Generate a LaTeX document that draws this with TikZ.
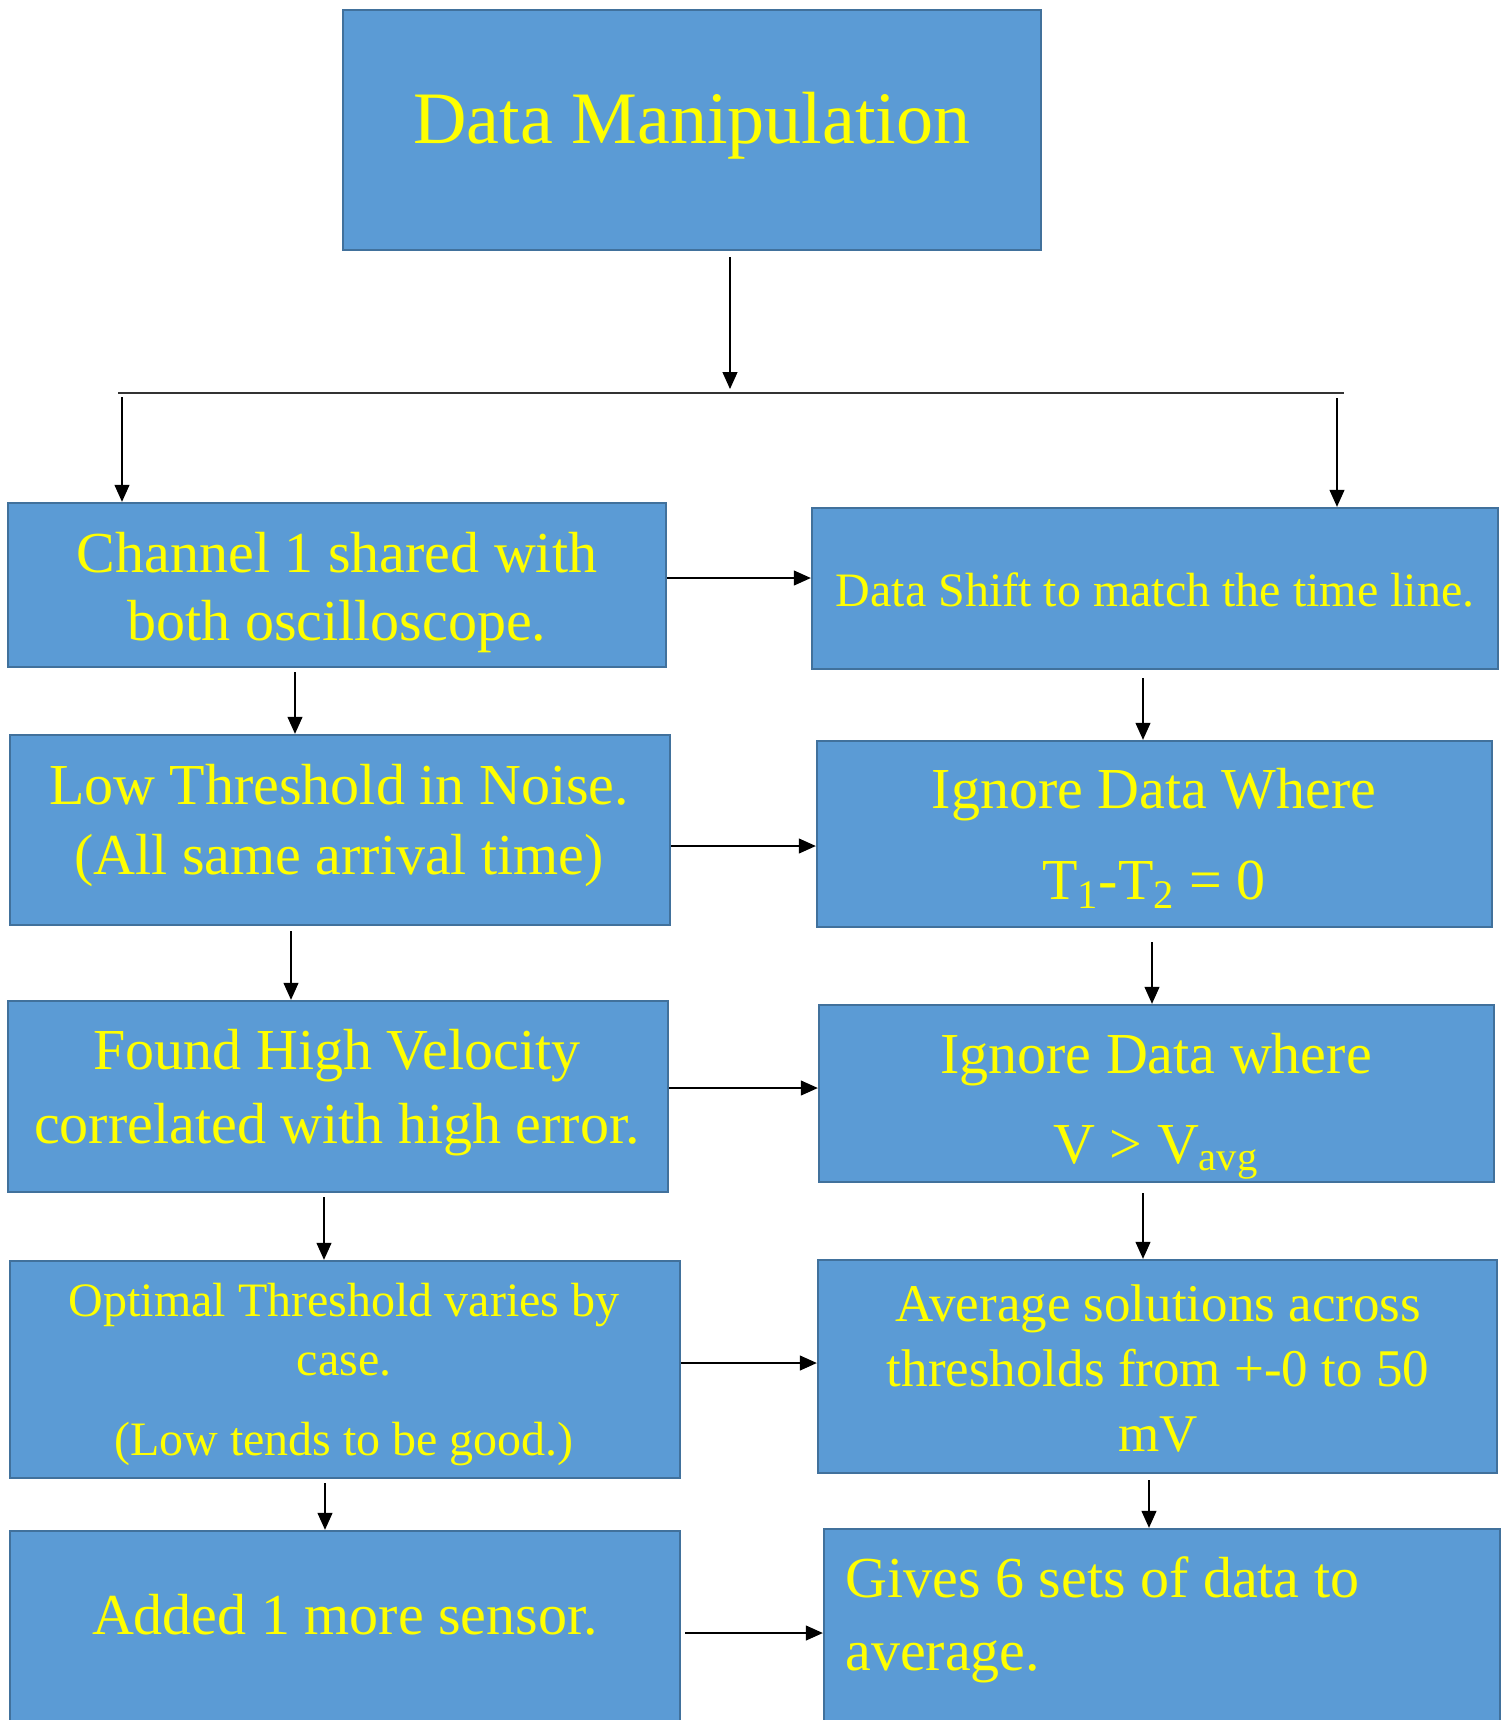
\documentclass[tikz,border=0pt]{standalone}
\usepackage{fontspec}
\setmainfont{Liberation Serif}
\usetikzlibrary{arrows.meta,fit}
\definecolor{boxfill}{HTML}{5B9BD5}
\definecolor{boxline}{HTML}{41719C}
\definecolor{txtyellow}{HTML}{FFFF00}
\tikzset{
  box/.style={rectangle, draw=boxline, fill=boxfill, line width=1.2pt, inner sep=0pt},
  arr/.style={-{Triangle[length=8.5pt,width=7.5pt]}, line width=0.6pt, draw=black},
  lbl/.style={text=txtyellow, inner sep=0pt, anchor=base},
  hugetxt/.style={lbl, font=\fontsize{37}{44}\selectfont},
  bigtxt/.style={lbl, font=\fontsize{29}{35}\selectfont},
  midtxt/.style={lbl, font=\fontsize{26.5}{32}\selectfont},
  smalltxt/.style={lbl, font=\fontsize{24}{29}\selectfont},
}
\begin{document}
\begin{tikzpicture}[x=0.5pt,y=-0.5pt]
\useasboundingbox (0,0) rectangle (1507,1720);
\clip (0,0) rectangle (1507,1720);

% boxes
\node[box, fit={(343,10) (1041,250)}] (top) {};
\node[box, fit={(8,503) (666,667)}] (b1) {};
\node[box, fit={(812,508) (1498,669)}] (r1) {};
\node[box, fit={(10,735) (670,925)}] (b2) {};
\node[box, fit={(817,741) (1492,927)}] (r2) {};
\node[box, fit={(8,1001) (668,1192)}] (b3) {};
\node[box, fit={(819,1005) (1494,1182)}] (r3) {};
\node[box, fit={(10,1261) (680,1478)}] (b4) {};
\node[box, fit={(818,1260) (1497,1473)}] (r4) {};
\node[box, fit={(10,1531) (680,1745)}] (b5) {};
\node[box, fit={(824,1529) (1500,1745)}] (r5) {};

% texts
\node[hugetxt] (ttop) at (692,143) {Data Manipulation};

\node[bigtxt] (tb1a) at (337,572) {Channel 1 shared with};
\node[bigtxt] (tb1b) at (337,640) {both oscilloscope.};

\node[smalltxt] (tr1) at (1155,606) {Data Shift to match the time line.};

\node[bigtxt] (tb2a) at (339,804) {Low Threshold in Noise.};
\node[bigtxt] (tb2b) at (339,874) {(All same arrival time)};

\node[bigtxt] (tr2a) at (1154,808) {Ignore Data Where};
\node[bigtxt] (tr2b) at (1154,899) {T\textsubscript{1}-T\textsubscript{2} = 0};

\node[bigtxt] (tb3a) at (337,1069) {Found High Velocity};
\node[bigtxt] (tb3b) at (337,1143) {correlated with high error.};

\node[bigtxt] (tr3a) at (1156,1073) {Ignore Data where};
\node[bigtxt] (tr3b) at (1156,1163) {V > V\textsubscript{avg}};

\node[smalltxt] (tb4a) at (344,1316) {Optimal Threshold varies by};
\node[smalltxt] (tb4b) at (344,1375) {case.};
\node[smalltxt] (tb4c) at (344,1455) {(Low tends to be good.)};

\node[midtxt] (tr4a) at (1158,1321) {Average solutions across};
\node[midtxt] (tr4b) at (1158,1386) {thresholds from +-0 to 50};
\node[midtxt] (tr4c) at (1158,1451) {mV};

\node[bigtxt] (tb5) at (345,1634) {Added 1 more sensor.};

\node[bigtxt, anchor=base west] (tr5a) at (845,1597) {Gives 6 sets of data to};
\node[bigtxt, anchor=base west] (tr5b) at (845,1670) {average.};

% helper coordinates
\coordinate (tdrop) at (730,389);
\coordinate (busL) at (118,393);
\coordinate (busR) at (1344,393);
\coordinate (ldrop) at (122,397);
\coordinate (rdrop) at (1337,398);

\coordinate (vx1) at (295,0);
\coordinate (vx2) at (291,0);
\coordinate (vx3) at (324,0);
\coordinate (vx4) at (325,0);
\coordinate (wx1) at (1143,0);
\coordinate (wx2) at (1152,0);
\coordinate (wx3) at (1143,0);
\coordinate (wx4) at (1149,0);

\coordinate (hy1) at (0,578);
\coordinate (hy2) at (0,846);
\coordinate (hy3) at (0,1088);
\coordinate (hy4) at (0,1363);
\coordinate (hy5) at (0,1633);

% connectors
\draw[arr, shorten <=3pt] (top.south -| tdrop) -- (tdrop);
\draw[line width=0.6pt, black!80] (busL) -- (busR);
\draw[arr] (ldrop) -- (b1.north -| ldrop);
\draw[arr] (rdrop) -- (r1.north -| rdrop);

\draw[arr, shorten <=2pt] (b1.south -| vx1) -- (b2.north -| vx1);
\draw[arr, shorten <=2.5pt] (b2.south -| vx2) -- (b3.north -| vx2);
\draw[arr, shorten <=2pt] (b3.south -| vx3) -- (b4.north -| vx3);
\draw[arr, shorten <=2pt] (b4.south -| vx4) -- (b5.north -| vx4);

\draw[arr, shorten <=4pt] (r1.south -| wx1) -- (r2.north -| wx1);
\draw[arr, shorten <=7pt] (r2.south -| wx2) -- (r3.north -| wx2);
\draw[arr, shorten <=5pt] (r3.south -| wx3) -- (r4.north -| wx3);
\draw[arr, shorten <=3pt] (r4.south -| wx4) -- (r5.north -| wx4);

\draw[arr] (b1.east |- hy1) -- (r1.west |- hy1);
\draw[arr] (b2.east |- hy2) -- (r2.west |- hy2);
\draw[arr] (b3.east |- hy3) -- (r3.west |- hy3);
\draw[arr] (b4.east |- hy4) -- (r4.west |- hy4);
\draw[arr, shorten <=2pt] (b5.east |- hy5) -- (r5.west |- hy5);
\end{tikzpicture}
\end{document}
